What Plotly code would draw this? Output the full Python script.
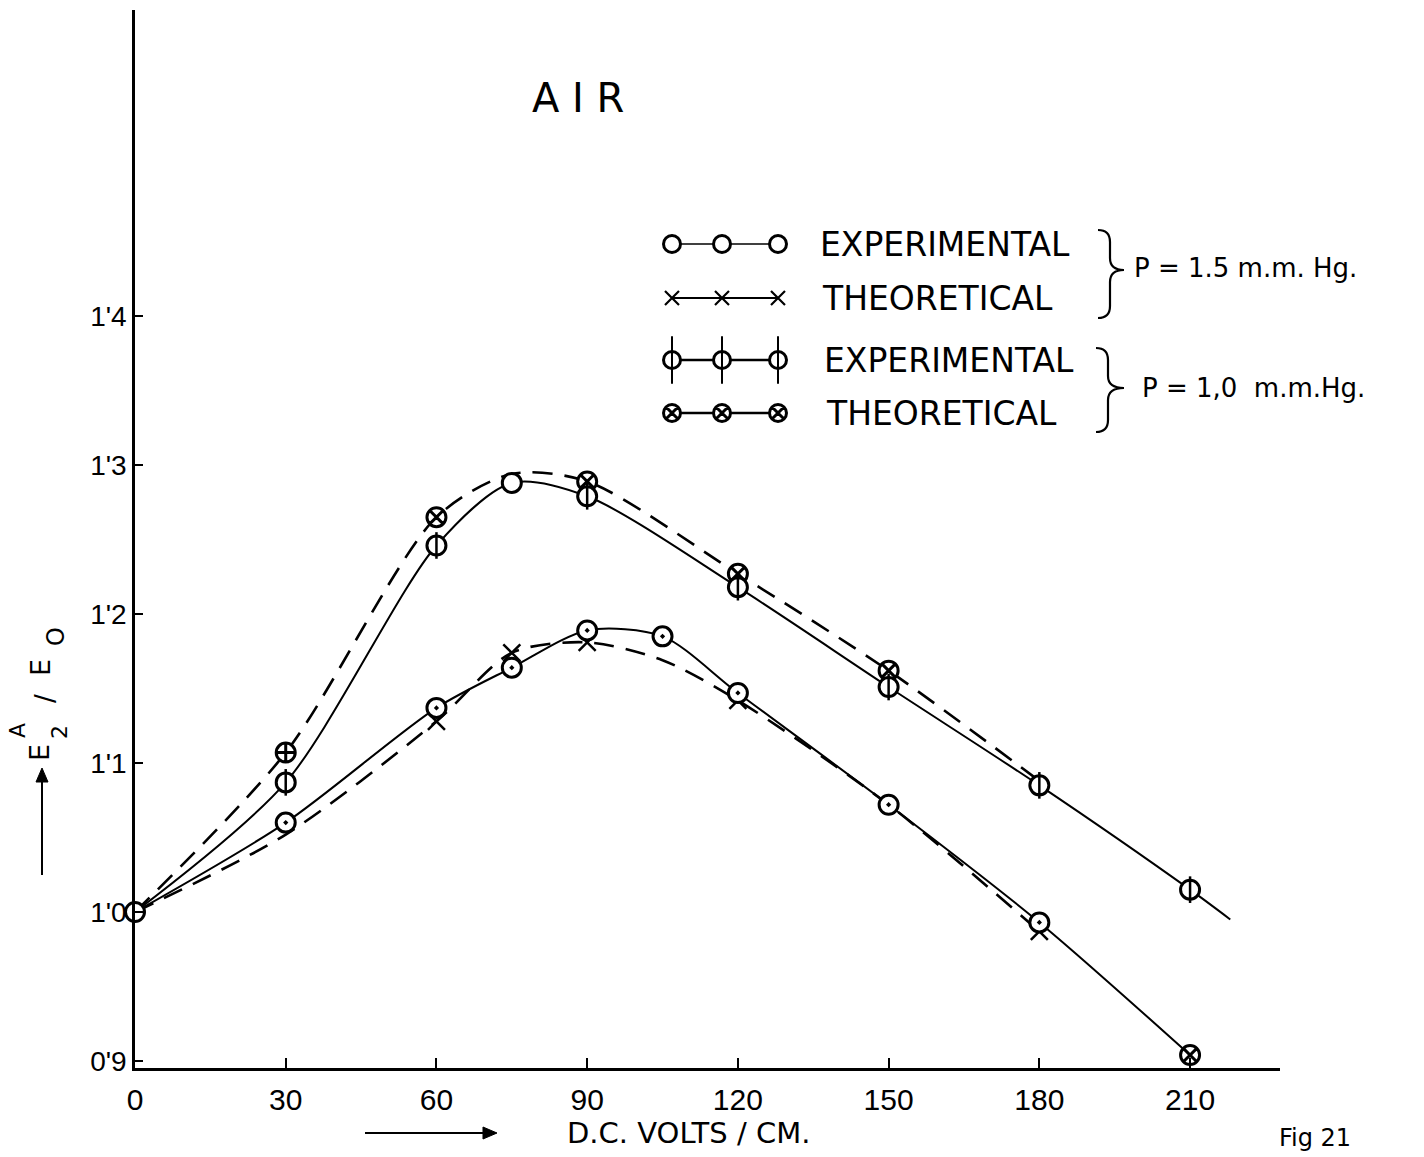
import plotly.graph_objects as go

# --- data: E2A/E0 against applied D.C. field (volts / cm), air ---
# P = 1.0 mm Hg, experimental (solid curve)
volts_p10_exp = [0, 30, 60, 75, 90, 120, 150, 180, 210, 218]
ratio_p10_exp = [1.000, 1.087, 1.246, 1.288, 1.279, 1.218, 1.151, 1.085, 1.015, 0.995]
# P = 1.0 mm Hg, theoretical (dashed curve)
volts_p10_th = [0, 30, 60, 75, 90, 120, 150, 180]
ratio_p10_th = [1.000, 1.107, 1.265, 1.294, 1.289, 1.227, 1.162, 1.088]
# P = 1.5 mm Hg, experimental (solid curve)
volts_p15_exp = [0, 30, 60, 75, 90, 105, 120, 150, 180, 210]
ratio_p15_exp = [1.000, 1.060, 1.137, 1.164, 1.189, 1.185, 1.147, 1.072, 0.993, 0.904]
# P = 1.5 mm Hg, theoretical (dashed curve)
volts_p15_th = [0, 30, 60, 75, 90, 105, 120, 150, 180]
ratio_p15_th = [1.000, 1.052, 1.128, 1.174, 1.181, 1.169, 1.142, 1.072, 0.987]

x_ticks = [0, 30, 60, 90, 120, 150, 180, 210]
x_tick_text = ["0", "30", "60", "90", "120", "150", "180", "210"]
y_ticks = [0.9, 1.0, 1.1, 1.2, 1.3, 1.4]
y_tick_text = ["0'9", "1'0", "1'1", "1'2", "1'3", "1'4"]

# --- page geometry ---
W, H = 1424, 1157
M_L, M_R, M_T, M_B = 135, 144, 10, 89
PLOT_W, PLOT_H = W - M_L - M_R, H - M_T - M_B
X_RANGE = [0, 227.9]
Y_RANGE = [0.8953, 1.6054]

FONT = "DejaVu Sans"
TICK_FONT = "Liberation Sans"
INK = "black"


def px(x):
    """page pixel column -> paper x"""
    return (x - M_L) / PLOT_W


def py(y):
    """page pixel row -> paper y"""
    return (H - M_B - y) / PLOT_H


fig = go.Figure()

# ---- curves (drawn first so the point symbols sit on top) ----
def curve(x, y, width, dash, smoothing=0.8):
    fig.add_trace(go.Scatter(
        x=x, y=y, mode="lines", hoverinfo="skip", showlegend=False,
        line=dict(shape="spline", smoothing=smoothing, color=INK, width=width, dash=dash),
    ))

curve(volts_p10_exp, ratio_p10_exp, 2.0, "solid")
curve(volts_p10_th, ratio_p10_th, 2.6, "20px,12px")
curve(volts_p15_exp, ratio_p15_exp, 2.0, "solid")
curve(volts_p15_th, ratio_p15_th, 2.6, "20px,12px")

# ---- point symbols ----
def points(x, y, symbols, sizes, fill="white", lw=3):
    fig.add_trace(go.Scatter(
        x=x, y=y, mode="markers", hoverinfo="skip", showlegend=False, cliponaxis=False,
        marker=dict(symbol=symbols, size=sizes, color=fill, opacity=1,
                    line=dict(color=INK, width=lw)),
    ))

C = 19  # circle diameter
# P = 1.0 experimental: circles with a vertical bar
p10_exp_sym = ["circle"] * 10
p10_exp_size = [C, C, C, C, C, C, C, C, C, 0]
bar_size = [0, C, C, 0, C, C, C, C, C, 0]
# P = 1.0 theoretical: crossed circles
p10_th_sym = ["circle", "circle-cross", "circle-x", "circle", "circle-x", "circle-x", "circle-x", "circle"]
p10_th_size = [0, C, C, 0, C, C, C, 0]
# P = 1.5 experimental: dotted circles (end point crossed)
p15_exp_sym = ["circle"] + ["circle-dot"] * 8 + ["circle-x"]
p15_exp_size = [0, C, C, C, C, C, C, C, C, C]
# P = 1.5 theoretical: crosses
p15_th_size = [0, 0, 17, 17, 17, 0, 17, 0, 17]

points(volts_p15_th, ratio_p15_th, "x-thin", p15_th_size, fill=INK, lw=2.5)
points(volts_p15_exp, ratio_p15_exp, p15_exp_sym, p15_exp_size)
points(volts_p10_th, ratio_p10_th, p10_th_sym, p10_th_size)
points(volts_p10_exp, ratio_p10_exp, p10_exp_sym, p10_exp_size)
points(volts_p10_exp, ratio_p10_exp, "line-ns", bar_size, fill=INK, lw=2.5)

# ---- key: samples drawn on a hidden overlay axis measured in page pixels ----
key_x = [672, 722, 778]
key_rows = [244, 298, 360, 413]

def key_sample(row, symbol, size, lw_line, lw_mark=3, fill="white"):
    y = key_rows[row]
    fig.add_trace(go.Scatter(
        x=key_x, y=[y] * 3, xaxis="x2", yaxis="y2", mode="lines+markers",
        hoverinfo="skip", showlegend=False, cliponaxis=False,
        line=dict(color=INK, width=lw_line),
        marker=dict(symbol=symbol, size=size, color=fill, opacity=1,
                    line=dict(color=INK, width=lw_mark)),
    ))

key_sample(0, "circle", 17, 1.5)
key_sample(1, "x-thin", 14, 1.8, lw_mark=2.2, fill=INK)
key_sample(2, "circle", 17, 2.5)
fig.add_trace(go.Scatter(
    x=key_x, y=[key_rows[2]] * 3, xaxis="x2", yaxis="y2", mode="markers",
    hoverinfo="skip", showlegend=False, cliponaxis=False,
    marker=dict(symbol="line-ns", size=34, color=INK, line=dict(color=INK, width=2)),
))
key_sample(3, "circle-x", 17, 2.5)

annotations = []

def text(x, y, s, size, anchor="left", font=FONT, angle=0, yanchor="middle"):
    annotations.append(dict(
        x=px(x), y=py(y), xref="paper", yref="paper", text=s, showarrow=False,
        xanchor=anchor, yanchor=yanchor, textangle=angle,
        font=dict(family=font, size=size, color=INK),
    ))

text(818, key_rows[0], "EXPERIMENTAL", 33)
text(820, key_rows[1], "THEORETICAL", 33)
text(822, key_rows[2], "EXPERIMENTAL", 33)
text(824, key_rows[3], "THEORETICAL", 33)
text(1132, 268, "P = 1.5 m.m. Hg.", 26)
text(1140, 388, "P = 1,0  m.m.Hg.", 26)

text(578, 98, "A I R", 40, anchor="center")
text(1315, 1138, "Fig 21", 24, anchor="center")
text(688, 1133, "D.C. VOLTS / CM.", 29, anchor="center")

# rotated ordinate label E2^A / EO, built glyph group by glyph group
text(40, 753, "E", 27, anchor="center", angle=-90)
text(59, 732, "2", 22, anchor="center", angle=-90)
text(17, 731, "A", 22, anchor="center", angle=-90)
text(45, 699, "/", 26, anchor="center", angle=-90)
text(41, 668, "E", 27, anchor="center", angle=-90)
text(56, 637, "O", 24, anchor="center", angle=-90)

shapes = []

# arrows beside the axis titles: shaft plus a filled head
def arrow(x0, y0, x1, y1, head=14, half=6):
    dx, dy = x1 - x0, y1 - y0
    n = (dx * dx + dy * dy) ** 0.5
    ux, uy = dx / n, dy / n
    bx, by = x1 - ux * head, y1 - uy * head
    shapes.append(dict(type="line", xref="paper", yref="paper",
                       x0=px(x0), y0=py(y0), x1=px(bx), y1=py(by),
                       line=dict(color=INK, width=2)))
    pts = [(x1, y1), (bx - uy * half, by + ux * half), (bx + uy * half, by - ux * half)]
    path = "M " + " L ".join(f"{px(a):.5f},{py(b):.5f}" for a, b in pts) + " Z"
    shapes.append(dict(type="path", xref="paper", yref="paper", path=path,
                       fillcolor=INK, line=dict(color=INK, width=1)))

arrow(365, 1133, 497, 1133)
arrow(42, 875, 42, 768)

# braces grouping the key rows
def brace(x0, xm, xt, y0, ymid, y1, r=12):
    return dict(
        type="path", xref="x2", yref="y2",
        path=(f"M {x0},{y0} Q {xm},{y0} {xm},{y0 + r} L {xm},{ymid - r} "
              f"Q {xm},{ymid} {xt},{ymid} Q {xm},{ymid} {xm},{ymid + r} "
              f"L {xm},{y1 - r} Q {xm},{y1} {x0},{y1}"),
        line=dict(color=INK, width=2.2),
    )

shapes.append(brace(1098, 1110, 1124, 230, 270, 318))
shapes.append(brace(1096, 1108, 1124, 348, 388, 432))

fig.update_layout(
    width=W, height=H,
    margin=dict(l=M_L, r=M_R, t=M_T, b=M_B, pad=0),
    paper_bgcolor="white", plot_bgcolor="white",
    showlegend=False,
    annotations=annotations,
    shapes=shapes,
    xaxis=dict(
        range=X_RANGE, showgrid=False, zeroline=False,
        showline=True, linecolor=INK, linewidth=2.5,
        ticks="inside", ticklen=10, tickwidth=2, tickcolor=INK,
        tickvals=x_ticks, ticktext=x_tick_text, ticklabelstandoff=3,
        tickfont=dict(family=TICK_FONT, size=30, color=INK),
    ),
    yaxis=dict(
        range=Y_RANGE, showgrid=False, zeroline=False,
        showline=True, linecolor=INK, linewidth=2.5,
        ticks="inside", ticklen=8, tickwidth=2, tickcolor=INK,
        tickvals=y_ticks, ticktext=y_tick_text, ticklabelstandoff=0,
        tickfont=dict(family=TICK_FONT, size=28, color=INK),
    ),
    xaxis2=dict(range=[M_L, W - M_R], overlaying="x", visible=False, fixedrange=True),
    yaxis2=dict(range=[H - M_B, M_T], overlaying="y", visible=False, fixedrange=True),
)

fig.write_html("out.html")
